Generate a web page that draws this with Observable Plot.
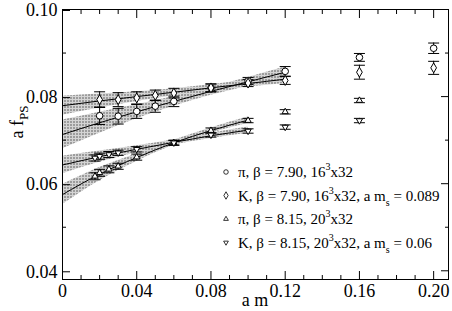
<!DOCTYPE html>
<html><head><meta charset="utf-8">
<script src="https://cdn.jsdelivr.net/npm/d3@7"></script>
<script src="https://cdn.jsdelivr.net/npm/@observablehq/plot@0.6"></script>
<style>body{margin:0;background:#fff}#chart{width:452px;height:311px}</style>
</head><body><div id="chart"></div>
<script>
// ---- data: beta = 7.90, 16^3x32 ----
const am790 = [0.02, 0.03, 0.04, 0.05, 0.06, 0.08, 0.10, 0.12, 0.16, 0.20];
const fPi790 = [0.0756, 0.0755, 0.0766, 0.0778, 0.0789, 0.0820, 0.0836, 0.0858, 0.0890, 0.0911];
const ePi790 = [0.0020, 0.0018, 0.0016, 0.0014, 0.0012, 0.0009, 0.0008, 0.0011, 0.0009, 0.0012];
const fK790 = [0.0793, 0.0793, 0.0797, 0.0803, 0.0808, 0.0820, 0.0831, 0.0837, 0.0856, 0.0866];
const eK790 = [0.0018, 0.0016, 0.0014, 0.0012, 0.0011, 0.0009, 0.0008, 0.0009, 0.0016, 0.0015];
// ---- data: beta = 8.15, 20^3x32 ----
const am815 = [0.0175, 0.02, 0.025, 0.03, 0.04, 0.06, 0.08, 0.10, 0.12, 0.16];
const fPi815 = [0.0617, 0.0625, 0.0633, 0.0640, 0.0661, 0.0694, 0.0722, 0.0745, 0.0765, 0.0791];
const ePi815 = [0.0008, 0.0008, 0.0008, 0.0007, 0.0007, 0.0006, 0.0006, 0.0005, 0.0005, 0.0005];
const fK815 = [0.0659, 0.0663, 0.0667, 0.0671, 0.0679, 0.0694, 0.0712, 0.0721, 0.0730, 0.0745];
const eK815 = [0.0007, 0.0007, 0.0007, 0.0006, 0.0006, 0.0005, 0.0005, 0.0005, 0.0005, 0.0005];
// ---- chiral fits with error bands ----
const fitX790 = [0, 0.02, 0.04, 0.06, 0.08, 0.10, 0.12];
const fitPi790 = [0.0713, 0.0740, 0.0765, 0.0789, 0.0812, 0.0834, 0.0856];
const bandPi790 = [0.0033, 0.0024, 0.0016, 0.0011, 0.0009, 0.0010, 0.0012];
const fitK790 = [0.0779, 0.0790, 0.0800, 0.0810, 0.0820, 0.0830, 0.0840];
const bandK790 = [0.0022, 0.0016, 0.0011, 0.0008, 0.0007, 0.0008, 0.0010];
const fitX815 = [0, 0.02, 0.04, 0.06, 0.08, 0.10];
const fitPi815 = [0.0575, 0.0622, 0.0660, 0.0694, 0.0722, 0.0746];
const bandPi815 = [0.0023, 0.0015, 0.0009, 0.0006, 0.0006, 0.0007];
const fitK815 = [0.0643, 0.0662, 0.0679, 0.0695, 0.0710, 0.0723];
const bandK815 = [0.0020, 0.0013, 0.0008, 0.0006, 0.0006, 0.0007];
// ---- ticks ----
const xMajor = [0, 0.04, 0.08, 0.12, 0.16, 0.20];
const xMinor = [0.01,0.02,0.03,0.05,0.06,0.07,0.09,0.10,0.11,0.13,0.14,0.15,0.17,0.18,0.19];
const yMajor = [0.04, 0.06, 0.08, 0.10];
const yMinor = [0.05, 0.07, 0.09];

const pts = (xs, ys, es) => xs.map((x, i) => ({x, y: ys[i], e: es[i]}));
const fit = (xs, ys, bs) => xs.map((x, i) => ({x, y: ys[i], lo: ys[i] - bs[i], hi: ys[i] + bs[i]}));

const series = [
  {d: pts(am790, fPi790, ePi790), symbol: "circle", r: 3.3, rotate: 0},
  {d: pts(am790, fK790, eK790), symbol: "diamond", r: 3.0, rotate: 0},
  {d: pts(am815, fPi815, ePi815), symbol: "triangle2", r: 3.0, rotate: 0},
  {d: pts(am815, fK815, eK815), symbol: "triangle2", r: 3.0, rotate: 180}
];
const fits = [fit(fitX790, fitPi790, bandPi790), fit(fitX790, fitK790, bandK790),
              fit(fitX815, fitPi815, bandPi815), fit(fitX815, fitK815, bandK815)];

const capSym = {draw(ctx, size) { const r = Math.sqrt(size / Math.PI); ctx.moveTo(-r, 0); ctx.lineTo(r, 0); }};

const marks = [];
for (const f of fits) marks.push(Plot.areaY(f, {x: "x", y1: "lo", y2: "hi", fill: "url(#hatch)", curve: "monotone-x"}));
for (const f of fits) marks.push(Plot.line(f, {x: "x", y: "y", stroke: "black", strokeWidth: 1, curve: "monotone-x"}));
for (const s of series) {
  marks.push(Plot.ruleX(s.d, {x: "x", y1: d => d.y - d.e, y2: d => d.y + d.e, stroke: "black", strokeWidth: 1}));
  marks.push(Plot.dot(s.d, {x: "x", y: d => d.y - d.e, symbol: capSym, r: 5.5, stroke: "black", strokeWidth: 1}));
  marks.push(Plot.dot(s.d, {x: "x", y: d => d.y + d.e, symbol: capSym, r: 5.5, stroke: "black", strokeWidth: 1}));
}
for (const s of series) marks.push(Plot.dot(s.d, {x: "x", y: "y", symbol: s.symbol, r: s.r, rotate: s.rotate, fill: "white", stroke: "black", strokeWidth: 1}));

const fmtX = d => d === 0 ? "0" : d.toFixed(2);
marks.push(
  Plot.axisX(xMajor, {anchor: "bottom", tickSize: -8, tickPadding: 13, tickFormat: fmtX, fontSize: 18, label: null}),
  Plot.axisX(xMinor, {anchor: "bottom", tickSize: -4, tickFormat: () => "", label: null}),
  Plot.axisX(xMajor, {anchor: "top", tickSize: -8, tickFormat: () => "", label: null}),
  Plot.axisX(xMinor, {anchor: "top", tickSize: -4, tickFormat: () => "", label: null}),
  Plot.axisY(yMajor, {anchor: "left", tickSize: -8, tickPadding: 13, dy: 1, tickFormat: d => d.toFixed(2), fontSize: 18, label: null}),
  Plot.axisY(yMinor, {anchor: "left", tickSize: -4, tickFormat: () => "", label: null}),
  Plot.axisY(yMajor, {anchor: "right", tickSize: -8, tickFormat: () => "", label: null}),
  Plot.axisY(yMinor, {anchor: "right", tickSize: -4, tickFormat: () => "", label: null}),
  Plot.frame({stroke: "black", strokeWidth: 1})
);

const svg = Plot.plot({
  width: 452, height: 311,
  marginLeft: 62, marginRight: 4, marginTop: 9, marginBottom: 32,
  style: {fontFamily: "'Liberation Serif', 'DejaVu Serif', serif", color: "black", background: "white"},
  x: {domain: [0, 0.208]},
  y: {domain: [0.038, 0.10]},
  marks
});

const s = d3.select(svg);
const defs = s.insert("defs", ":first-child");
const pat = defs.append("pattern").attr("id", "hatch").attr("width", 3).attr("height", 3).attr("patternUnits", "userSpaceOnUse");
pat.append("rect").attr("width", 3).attr("height", 3).attr("fill", "#d4d4d4");
pat.append("rect").attr("x", 1).attr("y", 1).attr("width", 2).attr("height", 2).attr("fill", "#9c9c9c");

const font = "'Liberation Serif', 'DejaVu Serif', serif";
// axis labels
s.append("text").attr("x", 255).attr("y", 306).attr("text-anchor", "middle")
  .attr("font-family", font).attr("font-size", 18).attr("fill", "black").text("a m");
const yl = s.append("text").attr("transform", "translate(23,122) rotate(-90)").attr("text-anchor", "middle")
  .attr("font-family", font).attr("font-size", 18).attr("fill", "black");
yl.append("tspan").text("a f");
yl.append("tspan").attr("font-size", 13).attr("dy", 5).text("PS");

// legend
const legend = [
  {sym: d3.symbolCircle, rot: 0, parts: [["π, β = 7.90, 16", 0], ["3", -1], ["x32", 0]]},
  {sym: d3.symbolDiamond, rot: 0, parts: [["K, β = 7.90, 16", 0], ["3", -1], ["x32, a m", 0], ["s", 1], [" = 0.089", 0]]},
  {sym: d3.symbolTriangle2, rot: 0, parts: [["π, β = 8.15, 20", 0], ["3", -1], ["x32", 0]]},
  {sym: d3.symbolTriangle2, rot: 180, parts: [["K, β = 8.15, 20", 0], ["3", -1], ["x32, a m", 0], ["s", 1], [" = 0.06", 0]]}
];
const lg = s.append("g").attr("font-family", font).attr("font-size", 15).attr("fill", "black").attr("text-anchor", "start");
legend.forEach((L, i) => {
  const by = 177 + i * 23.5;
  lg.append("path").attr("d", d3.symbol(L.sym, 16)()).attr("transform", `translate(226,${by - 5}) rotate(${L.rot})`)
    .attr("fill", "white").attr("stroke", "black").attr("stroke-width", 0.8);
  const t = lg.append("text").attr("x", 238).attr("y", by).attr("text-anchor", "start");
  let level = 0;
  for (const [str, lv] of L.parts) {
    const sp = t.append("tspan").text(str);
    const target = lv === -1 ? -7 : lv === 1 ? 5 : 0;
    if (target !== level) sp.attr("dy", target - level);
    if (lv !== 0) sp.attr("font-size", 10);
    level = target;
  }
});

document.getElementById("chart").append(svg);
</script></body></html>
